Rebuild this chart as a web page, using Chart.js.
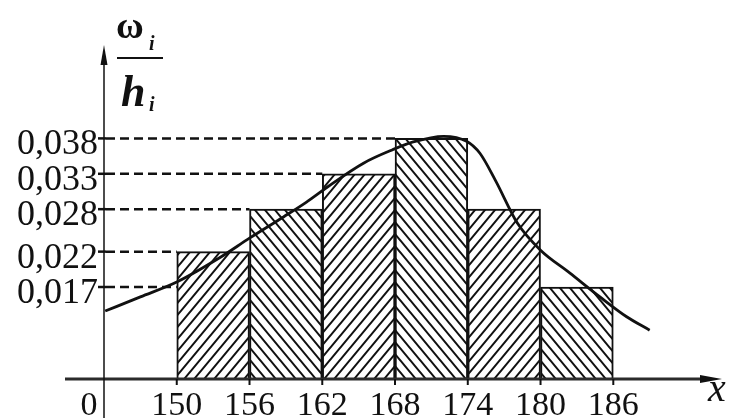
<!DOCTYPE html>
<html>
<head>
<meta charset="utf-8">
<script src="https://cdn.jsdelivr.net/npm/chart.js@4.4.1/dist/chart.umd.min.js"></script>
<style>
  html, body { margin: 0; padding: 0; background: #fff; }
  #wrap { width: 732px; height: 418px; position: relative; }
</style>
</head>
<body>
<div id="wrap"><canvas id="c" width="732" height="418"></canvas></div>
<script>
// Interval boundaries (height classes) and the density ω_i / h_i of each interval
const xTicks = [150, 156, 162, 168, 174, 180, 186];
const density = [0.022, 0.028, 0.033, 0.038, 0.028, 0.017];
const yTicks = [0.017, 0.022, 0.028, 0.033, 0.038];

// Smooth density curve drawn over the histogram
const curveX = [144.1, 147.0, 150.0, 153.6, 156.0, 158.8, 160.7, 162.4, 165.4, 167.8, 169.5, 172.0, 173.9, 175.0, 176.3, 178.1, 180.0, 182.4, 184.9, 187.1, 189.0];
const curveY = [0.0136, 0.0156, 0.0177, 0.0212, 0.0239, 0.0269, 0.0290, 0.0311, 0.0345, 0.0364, 0.0375, 0.0383, 0.0376, 0.0359, 0.0320, 0.0260, 0.0222, 0.0190, 0.0156, 0.0128, 0.0109];

const INK = '#111';
const SERIF = '"Liberation Serif", "Times New Roman", "DejaVu Serif", serif';

function hatch(dir) {
  const w = 10, h = 12;
  const c = document.createElement('canvas');
  c.width = w; c.height = h;
  const g = c.getContext('2d');
  g.fillStyle = '#fff';
  g.fillRect(0, 0, w, h);
  g.strokeStyle = INK;
  g.lineWidth = 2;
  g.beginPath();
  if (dir > 0) {            // "/" strokes
    g.moveTo(-w, 2 * h); g.lineTo(2 * w, -h);
    g.moveTo(-2 * w, 2 * h); g.lineTo(w, -h);
    g.moveTo(0, 2 * h); g.lineTo(3 * w, -h);
  } else {                  // "\" strokes
    g.moveTo(-w, -h); g.lineTo(2 * w, 2 * h);
    g.moveTo(-2 * w, -h); g.lineTo(w, 2 * h);
    g.moveTo(0, -h); g.lineTo(3 * w, 2 * h);
  }
  g.stroke();
  return g.createPattern(c, 'repeat');
}

const fmt = v => v.toFixed(3).replace('.', ',');

const axesPlugin = {
  id: 'axesPlugin',
  beforeDatasetsDraw(chart) {
    const { ctx, scales: { x, y } } = chart;
    ctx.save();
    ctx.strokeStyle = INK;
    ctx.lineWidth = 2.5;
    yTicks.forEach(v => {
      const py = y.getPixelForValue(v);
      const i = density.findIndex(d => d >= v - 1e-9);
      const xEnd = x.getPixelForValue(xTicks[i]);
      // short solid tick at the axis
      ctx.setLineDash([]);
      ctx.beginPath(); ctx.moveTo(x.left - 6, py); ctx.lineTo(x.left + 2, py); ctx.stroke();
      ctx.setLineDash([9, 5]);
      ctx.beginPath(); ctx.moveTo(x.left + 2, py); ctx.lineTo(xEnd, py); ctx.stroke();
    });
    ctx.restore();
  },
  afterDatasetsDraw(chart) {
    const { ctx, scales: { x, y } } = chart;
    const x0 = x.left, y0 = y.bottom;
    ctx.save();
    ctx.setLineDash([]);
    ctx.strokeStyle = INK;
    ctx.fillStyle = INK;

    // horizontal axis with arrow
    ctx.lineWidth = 3;
    ctx.strokeStyle = '#2b2b2b';
    ctx.beginPath(); ctx.moveTo(x0 - 39, y0); ctx.lineTo(x.right - 14, y0); ctx.stroke();
    ctx.beginPath();
    ctx.moveTo(x.right - 20, y0 - 4); ctx.lineTo(x.right + 2, y0); ctx.lineTo(x.right - 20, y0 + 4);
    ctx.closePath(); ctx.fill();

    // vertical axis with arrow
    ctx.strokeStyle = INK;
    ctx.lineWidth = 1.5;
    ctx.beginPath(); ctx.moveTo(x0, y.top + 14); ctx.lineTo(x0, chart.height); ctx.stroke();
    ctx.beginPath();
    ctx.moveTo(x0 - 3.5, y.top + 20); ctx.lineTo(x0, y.top); ctx.lineTo(x0 + 3.5, y.top + 20);
    ctx.closePath(); ctx.fill();

    // small ticks under the x axis
    ctx.lineWidth = 2;
    xTicks.forEach(v => {
      const px = x.getPixelForValue(v);
      ctx.beginPath(); ctx.moveTo(px, y0); ctx.lineTo(px, y0 + 6); ctx.stroke();
    });

    // x tick labels
    ctx.font = '34px ' + SERIF;
    ctx.textAlign = 'center';
    ctx.textBaseline = 'alphabetic';
    xTicks.forEach(v => ctx.fillText(String(v), x.getPixelForValue(v), y0 + 36));
    ctx.fillText('0', x0 - 15, y0 + 36);

    // y tick labels
    ctx.font = '36px ' + SERIF;
    ctx.textAlign = 'right';
    yTicks.forEach(v => ctx.fillText(fmt(v), x0 - 6, y.getPixelForValue(v) + 16));

    // axis name x
    ctx.font = 'italic 40px ' + SERIF;
    ctx.textAlign = 'left';
    ctx.fillText('x', 708, y0 + 22);

    // axis name ω_i / h_i
    ctx.font = 'bold 38px ' + SERIF;
    ctx.fillText('ω', 116, 38);
    ctx.font = 'bold italic 20px ' + SERIF;
    ctx.fillText('i', 149, 50);
    ctx.lineWidth = 2;
    ctx.beginPath(); ctx.moveTo(117, 58); ctx.lineTo(163, 58); ctx.stroke();
    ctx.font = 'bold italic 44px ' + SERIF;
    ctx.fillText('h', 121, 106);
    ctx.font = 'bold italic 20px ' + SERIF;
    ctx.fillText('i', 149, 111);

    ctx.restore();
  }
};

const bars = density.map((v, i) => ({ x: (xTicks[i] + xTicks[i + 1]) / 2, y: v }));
const curve = curveX.map((v, i) => ({ x: v, y: curveY[i] }));

new Chart(document.getElementById('c'), {
  type: 'bar',
  data: {
    datasets: [
      {
        type: 'line',
        data: curve,
        borderColor: INK,
        borderWidth: 2.8,
        pointRadius: 0,
        fill: false,
        cubicInterpolationMode: 'monotone',
        order: 1
      },
      {
        type: 'bar',
        data: bars,
        backgroundColor: density.map((_, i) => hatch(i % 2 === 0 ? 1 : -1)),
        borderColor: INK,
        borderWidth: 2,
        barPercentage: 1,
        categoryPercentage: 1,
        order: 2
      }
    ]
  },
  options: {
    responsive: false,
    animation: false,
    events: [],
    layout: { padding: { left: 104, right: 12, top: 45, bottom: 39 } },
    plugins: { legend: { display: false }, tooltip: { enabled: false } },
    scales: {
      x: {
        type: 'linear', display: false, offset: false, min: 144, max: 194.8,
        afterBuildTicks: s => { s.ticks = [144].concat(xTicks).map(v => ({ value: v })); }
      },
      y: {
        type: 'linear', display: false, min: 0.004, max: 0.0512,
        afterBuildTicks: s => { s.ticks = yTicks.map(v => ({ value: v })); }
      }
    }
  },
  plugins: [axesPlugin]
});
</script>
</body>
</html>
